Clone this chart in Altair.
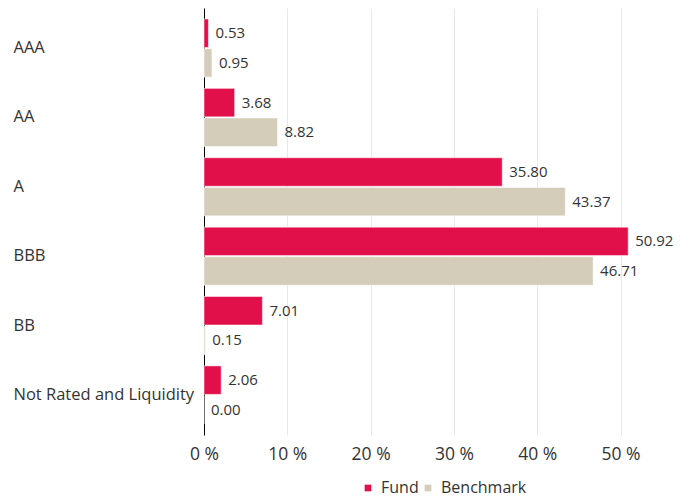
import altair as alt
import pandas as pd

categories = ["AAA", "AA", "A", "BBB", "BB", "Not Rated and Liquidity"]
fund = [0.53, 3.68, 35.80, 50.92, 7.01, 2.06]
benchmark = [0.95, 8.82, 43.37, 46.71, 0.15, 0.00]
series = ["Fund", "Benchmark"]
colors = ["#E2104A", "#D4CDB9"]
x_ticks = [0, 10, 20, 30, 40, 50]

rows = []
for c, f, b in zip(categories, fund, benchmark):
    rows.append({"category": c, "series": "Fund", "value": f})
    rows.append({"category": c, "series": "Benchmark", "value": b})
df = pd.DataFrame(rows)
df["label"] = df["value"].map(lambda v: f"{v:.2f}")

FONT = "Open Sans"

base = alt.Chart(df).encode(
    y=alt.Y(
        "category:N",
        sort=categories,
        scale=alt.Scale(paddingInner=0, paddingOuter=0.077),
        axis=alt.Axis(
            title=None, labelAlign="left", labelPadding=191, ticks=False,
            domainColor="#000000", domainWidth=1, labelFontSize=16.5,
            labelColor="#333333", labelFont=FONT, labelLimit=300, grid=False,
        ),
    ),
    yOffset=alt.YOffset("series:N", sort=series,
                        scale=alt.Scale(paddingInner=0.04, paddingOuter=0.19)),
)

bars = base.mark_bar(stroke="white", strokeWidth=0.5).encode(
    x=alt.X(
        "value:Q",
        scale=alt.Scale(domain=[0, 57.5], nice=False, zero=True),
        axis=alt.Axis(
            title=None, values=x_ticks, labelExpr="datum.value + ' %'",
            domain=False, ticks=False, grid=True, gridColor="#e8e8e8",
            labelFontSize=17.5, labelColor="#333333", labelFont=FONT,
            labelPadding=10, labelFlush=False,
        ),
    ),
    color=alt.Color(
        "series:N", sort=series,
        scale=alt.Scale(domain=series, range=colors),
        legend=alt.Legend(
            title=None, orient="none", direction="horizontal",
            legendX=156, legendY=472,
            symbolType="square", symbolSize=45, symbolStrokeWidth=0,
            labelFontSize=16, labelFont=FONT, labelColor="#333333",
            columnPadding=1, labelOffset=5,
        ),
    ),
)

text = base.mark_text(align="left", baseline="middle", dx=7, fontSize=15,
                      color="#333333", font=FONT).encode(
    x="value:Q", text="label:N"
)

chart = (bars + text).properties(
    width=479, height=427,
    padding={"left": 196, "top": 0, "right": 0, "bottom": 62},
    autosize=alt.AutoSizeParams(type="none"),
).configure_view(stroke=None)

chart.save("out.html", embed_options={"renderer": "svg", "actions": False})
